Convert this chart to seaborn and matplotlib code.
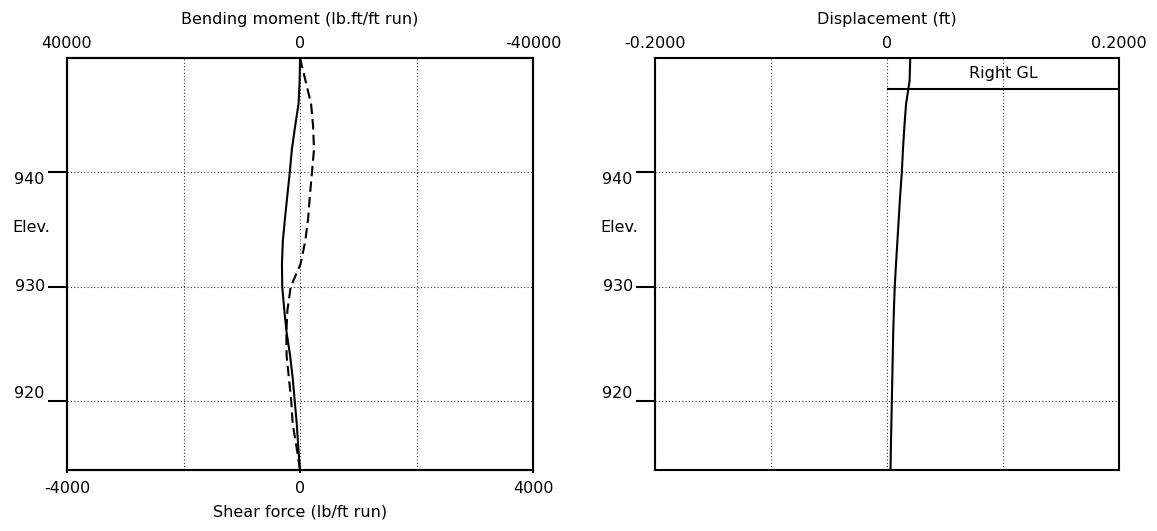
import matplotlib
matplotlib.use('Agg')
import matplotlib.pyplot as plt
import seaborn as sns

sns.set_style('white')
plt.rcParams['font.family'] = ['DejaVu Sans']
plt.rcParams['font.size'] = 11.5
plt.rcParams['text.color'] = 'black'
plt.rcParams['axes.labelcolor'] = 'black'
plt.rcParams['xtick.color'] = 'black'
plt.rcParams['ytick.color'] = 'black'
plt.rcParams['axes.edgecolor'] = 'black'

# elevations (ft) where the profiles were read
elev = [950, 948, 946, 944, 942, 940, 938, 936, 934, 932,
        930, 928, 926, 924, 922, 920, 918, 916, 914]
# bending moment (lb.ft/ft run)
moment = [0, 60, 250, 850, 1400, 1760, 2170, 2580, 2950, 3100,
          3050, 2700, 2300, 1700, 1250, 900, 550, 300, 0]
# shear force (lb/ft run)
shear = [0, 95, 190, 225, 240, 205, 170, 140, 90, 10,
         -160, -215, -235, -230, -190, -150, -125, -60, 0]
# displacement (ft)
disp = [0.0201, 0.0195, 0.0165, 0.0150, 0.0138, 0.0128, 0.0114, 0.0102, 0.0090, 0.0078,
        0.0067, 0.0060, 0.0054, 0.0050, 0.0046, 0.0042, 0.0038, 0.0034, 0.0031]
gl_elev = 947.3
gl_label = 'Right GL'

elev_ticks = [940, 930, 920]
elev_labels = ['940', '930', '920']
elev_va = ['top', 'center', 'bottom']

grid_kw = dict(color='#333333', linestyle=(0, (1, 2)), linewidth=0.8)
line_lw = 1.5

fig = plt.figure(figsize=(11.57, 5.31), dpi=100)
ax1 = fig.add_axes([0.0579, 0.1149, 0.4028, 0.7759])
ax2 = fig.add_axes([0.5661, 0.1149, 0.4010, 0.7759])


def style_elev_axis(ax):
    ax.set_ylim(914, 950)
    ax.set_yticks(elev_ticks)
    ax.set_yticklabels(elev_labels)
    for lab, va in zip(ax.get_yticklabels(), elev_va):
        lab.set_va(va)
    ax.tick_params(axis='y', left=True, direction='out', length=14, width=1.5, pad=2)
    ax.grid(axis='y', **grid_kw)
    ax.text(-0.118, 935.2, 'Elev.', transform=ax.get_yaxis_transform(),
            ha='left', va='center')
    for s in ax.spines.values():
        s.set_linewidth(1.5)
        s.set_color('black')


# ---- left panel: shear (bottom axis) and bending moment (top axis)
ax1.set_xlim(-4000, 4000)
ax1.set_xticks([-4000, 0, 4000])
ax1.set_xticklabels(['-4000', '0', '4000'])
ax1.set_xticks([-2000, 2000], minor=True)
ax1.tick_params(axis='x', which='major', bottom=True, direction='out', length=2, width=1.5, pad=6)
ax1.tick_params(axis='x', which='minor', length=0)
ax1.grid(axis='x', which='both', **grid_kw)
ax1.set_xlabel('Shear force (lb/ft run)', labelpad=6)
style_elev_axis(ax1)

sns.lineplot(x=shear, y=elev, sort=False, estimator=None, ax=ax1,
             color='black', linewidth=line_lw, linestyle=(0, (5, 2.5)))

axt = ax1.twiny()
sns.lineplot(x=moment, y=elev, sort=False, estimator=None, ax=axt,
             color='black', linewidth=line_lw)
axt.set_xlim(40000, -40000)
axt.set_ylim(914, 950)
axt.set_xticks([40000, 0, -40000])
axt.set_xticklabels(['40000', '0', '-40000'])
axt.tick_params(axis='x', length=0, pad=5)
axt.set_xlabel('Bending moment (lb.ft/ft run)', labelpad=9)
for s in axt.spines.values():
    s.set_linewidth(1.5)
    s.set_color('black')

# ---- right panel: displacement
ax2.set_xlim(-0.2, 0.2)
ax2.xaxis.tick_top()
ax2.xaxis.set_label_position('top')
ax2.set_xticks([-0.2, 0, 0.2])
ax2.set_xticklabels(['-0.2000', '0', '0.2000'])
ax2.set_xticks([-0.1, 0.1], minor=True)
ax2.tick_params(axis='x', which='major', length=0, pad=5)
ax2.tick_params(axis='x', which='minor', length=0)
ax2.grid(axis='x', which='both', **grid_kw)
ax2.set_xlabel('Displacement (ft)', labelpad=9)
style_elev_axis(ax2)

sns.lineplot(x=disp, y=elev, sort=False, estimator=None, ax=ax2,
             color='black', linewidth=line_lw)
ax2.hlines(gl_elev, 0, 0.2, color='black', linewidth=line_lw)
ax2.text(0.1, (950 + gl_elev) / 2, gl_label, ha='center', va='center')
ax2.set_ylim(914, 950)

fig.savefig('out.png', dpi=100, facecolor='white')
